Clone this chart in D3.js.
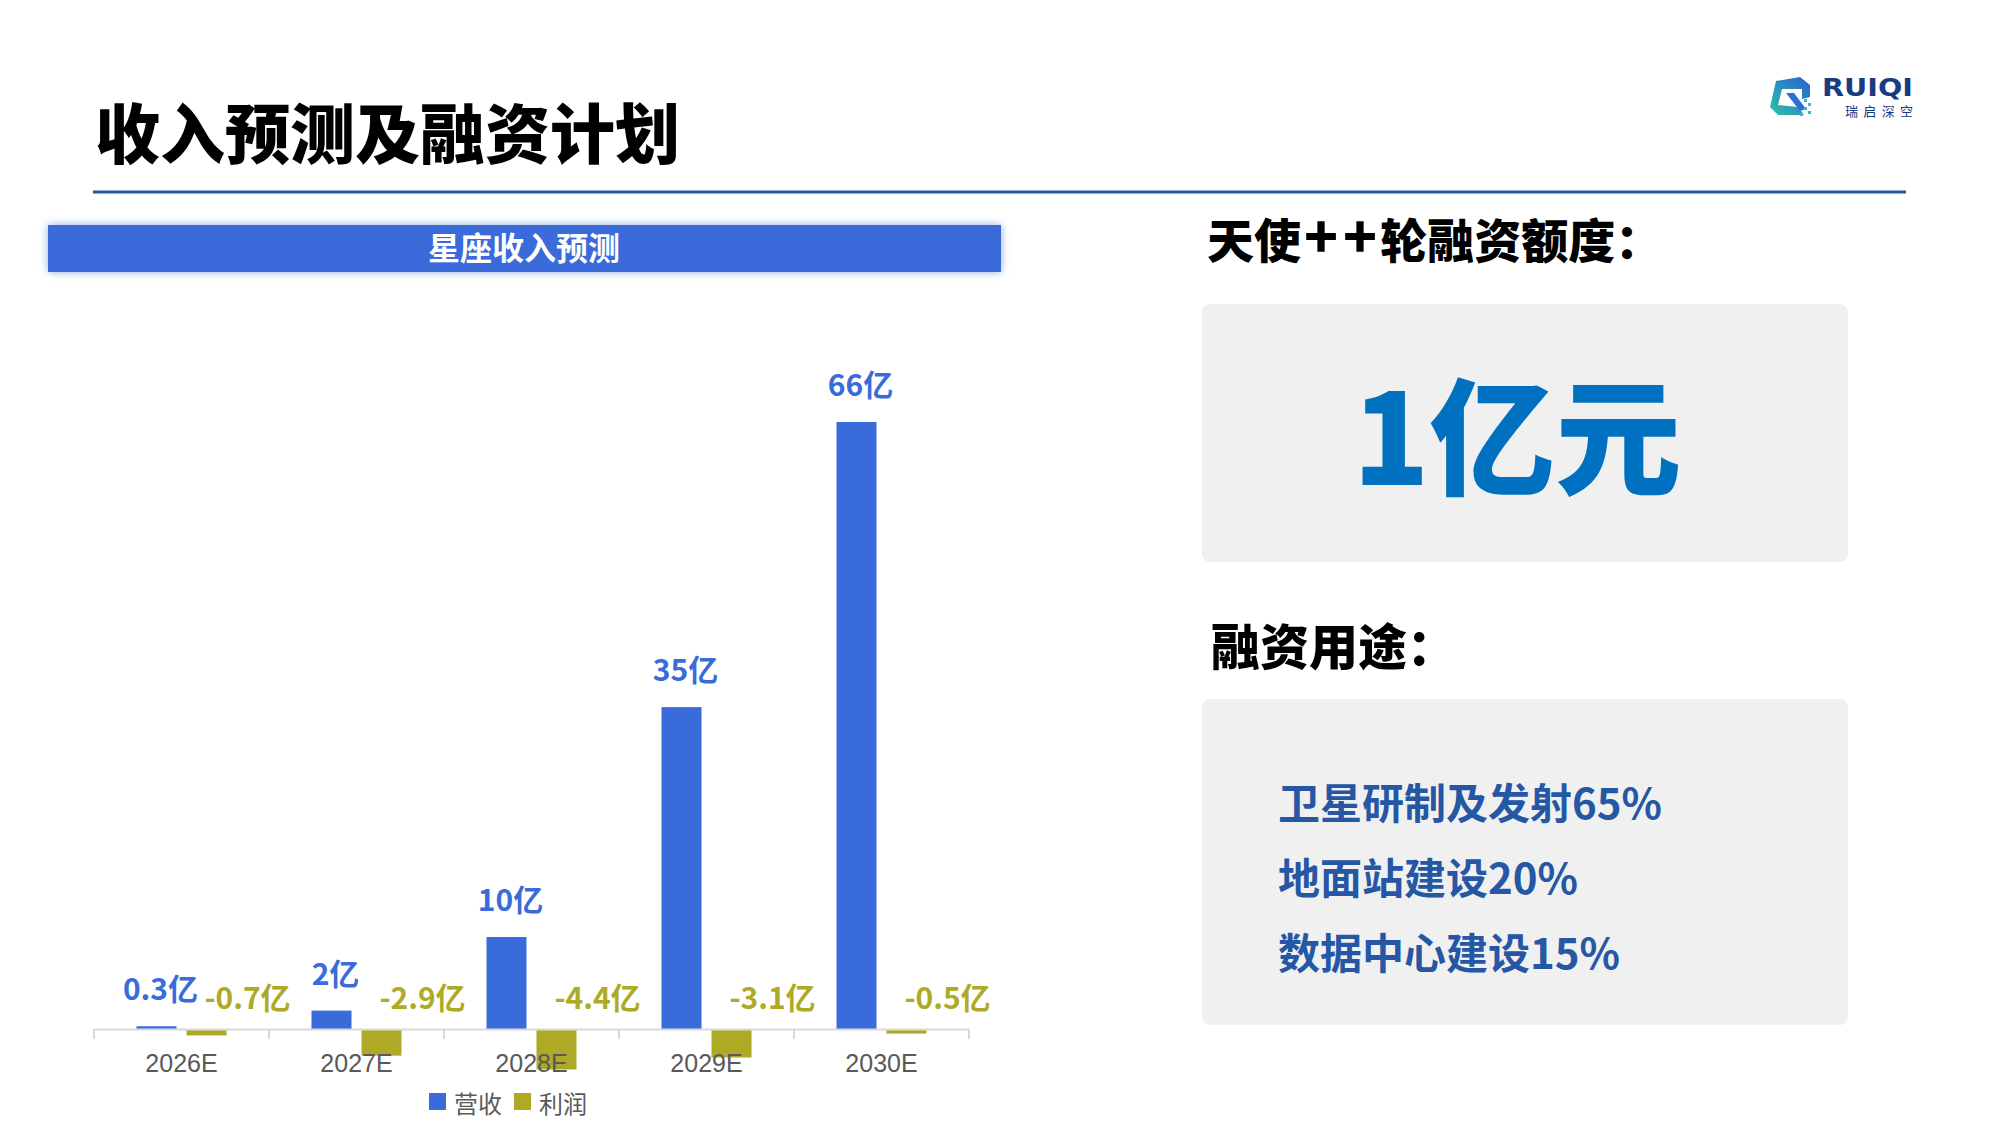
<!DOCTYPE html>
<html>
<head>
<meta charset="utf-8">
<script src="https://cdn.jsdelivr.net/npm/d3@7"></script>
<style>
  html, body { margin: 0; padding: 0; background: #fff; }
  svg { display: block; }
</style>
</head>
<body>
<div id="chart"></div>
<script>
// chart data
var years = ["2026E", "2027E", "2028E", "2029E", "2030E"];
var revenue = [0.3, 2, 10, 35, 66];
var profit = [-0.7, -2.9, -4.4, -3.1, -0.5];
var seriesNames = ["营收", "利润"];

// right side texts
var fundingTitle = ["天使", "+", "+", "轮融资额度："];
var fundingAmount = "1亿元";
var useTitle = "融资用途：";
var useItems = ["卫星研制及发射65%", "地面站建设20%", "数据中心建设15%"];

var W = 2000, H = 1125;
var blue = "#3a6bda", olive = "#aeaa26";
var cjk = "'Noto Sans CJK SC', 'Noto Sans', sans-serif";

var svg = d3.select("#chart").append("svg")
    .attr("width", W)
    .attr("height", H);

var defs = svg.append("defs");
var glow = defs.append("filter").attr("id", "glow")
    .attr("x", "-5%").attr("y", "-50%").attr("width", "110%").attr("height", "200%");
glow.append("feDropShadow")
    .attr("dx", 0).attr("dy", 0).attr("stdDeviation", 4)
    .attr("flood-color", "#7fa3d8").attr("flood-opacity", 0.9);

var grad = defs.append("linearGradient").attr("id", "logoGrad")
    .attr("x1", "0%").attr("y1", "100%").attr("x2", "100%").attr("y2", "0%");
grad.append("stop").attr("offset", "0%").attr("stop-color", "#2cc3a8");
grad.append("stop").attr("offset", "100%").attr("stop-color", "#2a5fd0");

// page title
svg.append("text")
    .attr("x", 95).attr("y", 158)
    .style("font-family", cjk).style("font-weight", 900)
    .style("font-size", "65px").attr("fill", "#000")
    .text("收入预测及融资计划");

svg.append("rect")
    .attr("x", 93).attr("y", 190.5).attr("width", 1813).attr("height", 3)
    .attr("fill", "#2454a3");

// logo (top right)
var logo = svg.append("g").attr("transform", "translate(1770,77)");
logo.append("path")
    .attr("d", "M6,4 L30,0 L40,8 L40,20 L32,22 L32,12 L12,12 L8,28 L28,30 L34,38 L8,38 L0,30 Z")
    .attr("fill", "url(#logoGrad)");
logo.append("path")
    .attr("d", "M16,16 L24,16 L36,32 L30,34 Z")
    .attr("fill", "#2a6fd6");
[[34, 22], [38, 26], [34, 30], [38, 34], [30, 36]].forEach(function(p) {
  logo.append("rect").attr("x", p[0]).attr("y", p[1]).attr("width", 3).attr("height", 3)
      .attr("fill", "#3ab7c8");
});
svg.append("text")
    .attr("x", 1822).attr("y", 96)
    .attr("textLength", 91).attr("lengthAdjust", "spacingAndGlyphs")
    .style("font-family", "'DejaVu Sans', sans-serif").style("font-weight", 700)
    .style("font-size", "24px").attr("fill", "#173c80")
    .text("RUIQI");
svg.append("text")
    .attr("x", 1845).attr("y", 116)
    .attr("textLength", 68).attr("lengthAdjust", "spacing")
    .style("font-family", cjk).style("font-size", "13px").attr("fill", "#173c80")
    .text("瑞启深空");

// chart header bar
svg.append("rect")
    .attr("x", 48).attr("y", 225).attr("width", 953).attr("height", 47)
    .attr("fill", blue).attr("filter", "url(#glow)");
svg.append("text")
    .attr("x", 524).attr("y", 246)
    .attr("text-anchor", "middle").attr("dominant-baseline", "central")
    .style("font-family", cjk).style("font-weight", 700)
    .style("font-size", "32px").attr("fill", "#fff")
    .text("星座收入预测");

// bar chart
var x = d3.scaleBand()
    .domain(years)
    .range([94, 969])
    .paddingInner(0).paddingOuter(0);

var y = d3.scaleLinear()
    .domain([0, 66])
    .range([1029, 422]);

var barW = 40, gap = 10;
var axisY = y(0);

var gBars = svg.append("g");

gBars.selectAll(".rev")
    .data(years)
    .enter().append("rect")
    .attr("class", "rev")
    .attr("x", d => x(d) + x.bandwidth() / 2 - gap / 2 - barW)
    .attr("y", (d, i) => y(revenue[i]))
    .attr("width", barW)
    .attr("height", (d, i) => axisY - y(revenue[i]))
    .attr("fill", blue);

gBars.selectAll(".pro")
    .data(years)
    .enter().append("rect")
    .attr("class", "pro")
    .attr("x", d => x(d) + x.bandwidth() / 2 + gap / 2)
    .attr("y", axisY)
    .attr("width", barW)
    .attr("height", (d, i) => y(profit[i]) - axisY)
    .attr("fill", olive);

// axis with category ticks at band edges
var xAxis = svg.append("g")
    .attr("transform", "translate(0," + axisY + ")")
    .call(d3.axisBottom(x).tickSize(0).tickPadding(25));
xAxis.select(".domain").attr("stroke", "#d9d9d9").attr("stroke-width", 2);
xAxis.selectAll(".tick text")
    .style("font-family", "'Liberation Sans', Arial, sans-serif")
    .style("font-size", "25px").attr("fill", "#595959");
var edges = years.map(d => x(d)).concat([x(years[years.length - 1]) + x.bandwidth()]);
xAxis.selectAll(".edge")
    .data(edges)
    .enter().append("line")
    .attr("class", "edge")
    .attr("x1", d => d).attr("x2", d => d)
    .attr("y1", 0).attr("y2", 10)
    .attr("stroke", "#d9d9d9").attr("stroke-width", 2);

// data labels
svg.selectAll(".revLabel")
    .data(years)
    .enter().append("text")
    .attr("class", "revLabel")
    .attr("x", d => x(d) + x.bandwidth() / 2 - gap / 2 - barW / 2 + 4)
    .attr("y", (d, i) => y(revenue[i]) - 39)
    .attr("text-anchor", "middle").attr("dominant-baseline", "central")
    .style("font-family", cjk).style("font-weight", 700)
    .style("font-size", "30px").attr("fill", blue)
    .text((d, i) => revenue[i] + "亿");

svg.selectAll(".proLabel")
    .data(years)
    .enter().append("text")
    .attr("class", "proLabel")
    .attr("x", d => x(d) + x.bandwidth() / 2 + gap / 2 + barW / 2 + 41)
    .attr("y", 996)
    .attr("text-anchor", "middle").attr("dominant-baseline", "central")
    .style("font-family", cjk).style("font-weight", 700)
    .style("font-size", "30px").attr("fill", olive)
    .text((d, i) => profit[i] + "亿");

// legend
var legendX = [429, 514];
var legend = svg.selectAll(".legend")
    .data(seriesNames)
    .enter().append("g")
    .attr("class", "legend")
    .attr("transform", (d, i) => "translate(" + legendX[i] + ",1101)");
legend.append("rect")
    .attr("x", 0).attr("y", -8).attr("width", 17).attr("height", 17)
    .attr("fill", (d, i) => i === 0 ? blue : olive);
legend.append("text")
    .attr("x", 25).attr("y", 1)
    .attr("dominant-baseline", "central")
    .style("font-family", cjk).style("font-size", "24px").attr("fill", "#595959")
    .text(d => d);

// right panel
var fundDx = [0, 3, 5, 3];
var fundSize = ["47px", "56px", "56px", "47px"];
svg.append("text")
    .attr("x", 1207).attr("y", 258)
    .style("font-family", cjk).style("font-weight", 900)
    .style("font-size", "47px").attr("fill", "#000")
    .selectAll("tspan")
    .data(fundingTitle)
    .enter().append("tspan")
    .attr("dx", (d, i) => fundDx[i])
    .style("font-size", (d, i) => fundSize[i])
    .text(d => d);

svg.append("rect")
    .attr("x", 1202).attr("y", 304).attr("width", 646).attr("height", 258)
    .attr("rx", 8).attr("fill", "#f0f0f0");

svg.append("text")
    .attr("x", 1517).attr("y", 430)
    .attr("text-anchor", "middle").attr("dominant-baseline", "central")
    .style("font-family", cjk).style("font-weight", 900)
    .style("font-size", "126px").attr("fill", "#0070c0")
    .text(fundingAmount);

svg.append("text")
    .attr("x", 1211).attr("y", 643)
    .attr("dominant-baseline", "central")
    .style("font-family", cjk).style("font-weight", 900)
    .style("font-size", "49px").attr("fill", "#000")
    .text(useTitle);

svg.append("rect")
    .attr("x", 1202).attr("y", 699).attr("width", 646).attr("height", 326)
    .attr("rx", 8).attr("fill", "#f0f0f0");

svg.selectAll(".useItem")
    .data(useItems)
    .enter().append("text")
    .attr("class", "useItem")
    .attr("x", 1278)
    .attr("y", (d, i) => 800 + i * 75)
    .attr("dominant-baseline", "central")
    .style("font-family", cjk).style("font-weight", 700)
    .style("font-size", "42px").attr("fill", "#2557a5")
    .text(d => d);
</script>
</body>
</html>
